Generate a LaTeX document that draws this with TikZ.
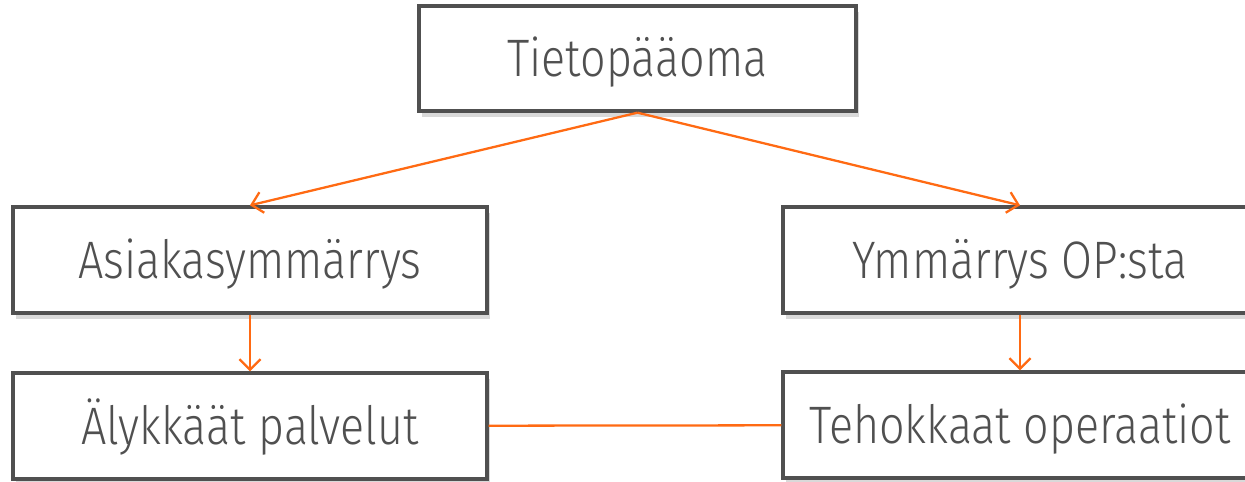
\documentclass[tikz,border=0pt]{standalone}
\usepackage{fontspec}
\setmainfont{Fira Sans Light}[FakeStretch=0.85]
\usepackage{tikz}
\usetikzlibrary{arrows.meta,shadows}
\definecolor{opgray}{HTML}{505050}
\definecolor{oporange}{HTML}{FF6A13}

\begin{document}
\begin{tikzpicture}[
	box/.style={draw=opgray, line width=1.9pt, fill=white, text=opgray,
		minimum width=9.48cm, minimum height=2.12cm, text height=0.72cm, text depth=0pt,
		font=\fontsize{30}{36}\selectfont,
		drop shadow={opacity=0.3, shadow xshift=0.05cm, shadow yshift=-0.12cm}},
	conn/.style={color=oporange, line width=1.3pt}
	]
	\useasboundingbox (0,0) rectangle (24.9,-9.64);
	\node[box, minimum width=8.74cm, minimum height=2.1cm] (tieto) at (12.75,-1.17) {Tietopääoma};
	\node[box] (asiakas) at (5.0,-5.2) {Asiakasymmärrys};
	\node[box] (ymm) at (20.4,-5.2) {Ymmärrys OP:sta};
	\node[box] (aly) at (5.0,-8.52) {Älykkäät palvelut};
	\node[box] (teho) at (20.4,-8.5) {Tehokkaat operaatiot};
	\path[-{Straight Barb[length=6pt,width=12pt]},conn]
	(tieto.south) edge (asiakas.north)
	(tieto.south) edge (ymm.north)
	(asiakas) edge (aly)
	(ymm) edge (teho);
	\path[conn] (aly) edge (teho);
\end{tikzpicture}
\end{document}
